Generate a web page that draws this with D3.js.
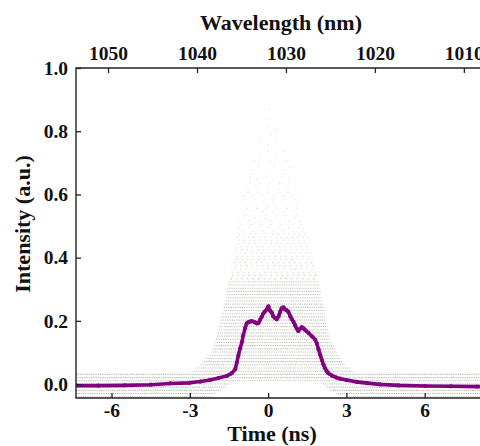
<!DOCTYPE html>
<meta charset="utf-8">
<title>Pulse profile</title>
<style>
body { margin: 0; background: #fff; }
text { font-family: "Liberation Serif", "Times New Roman", serif; font-weight: bold; fill: #111; }
.tick text { font-size: 19.5px; }
.tick line { stroke: #222; stroke-width: 1.3px; }
.title { font-size: 22px; }
</style>
<body>
<script src="https://cdn.jsdelivr.net/npm/d3@7"></script>
<script>

// averaged pulse
var timeNs = [-7.36, -6.5, -5.5, -4.5, -3.75, -3.0, -2.6, -2.22, -1.9, -1.58, -1.4, -1.26,
  -1.2, -1.14, -1.07, -1.0, -0.95, -0.88, -0.82, -0.75, -0.69, -0.62, -0.5, -0.43, -0.37,
  -0.31, -0.24, -0.18, -0.1, -0.05, 0.01, 0.08, 0.14, 0.2, 0.27, 0.33, 0.4, 0.46, 0.52,
  0.59, 0.65, 0.72, 0.78, 0.85, 0.91, 0.97, 1.04, 1.1, 1.16, 1.23, 1.29, 1.36, 1.42, 1.55,
  1.68, 1.8, 1.87, 1.93, 2.0, 2.06, 2.12, 2.18, 2.25, 2.31, 2.44, 2.6, 2.76, 3.0, 3.4,
  3.8, 4.29, 5, 6, 7, 8, 9];
var intensity = [-0.005, -0.005, -0.004, -0.002, 0.002, 0.004, 0.008, 0.013, 0.019, 0.026, 0.034, 0.047,
  0.068, 0.09, 0.113, 0.134, 0.155, 0.177, 0.192, 0.196, 0.198, 0.199, 0.195, 0.192, 0.193,
  0.203, 0.213, 0.224, 0.232, 0.236, 0.246, 0.232, 0.226, 0.214, 0.209, 0.205, 0.214, 0.228, 0.24,
  0.243, 0.236, 0.233, 0.228, 0.215, 0.205, 0.197, 0.185, 0.175, 0.168, 0.175, 0.18, 0.176, 0.171, 0.162,
  0.151, 0.141, 0.128, 0.11, 0.092, 0.076, 0.062, 0.05, 0.041, 0.034, 0.027, 0.021, 0.017, 0.013, 0.007,
  0.003, -0.001, -0.004, -0.006, -0.007, -0.008, -0.008];

// outline of the single-shot cloud behind the average
var cloudT  = [-7.4, -3.0, -2.6, -2.2, -2.0, -1.65, -1.35, -1.07, -0.5, 0.0, 0.65, 1.23, 1.69, 2.07, 2.37, 2.95, 3.4, 9.2];
var cloudHi = [0.035, 0.035, 0.06, 0.1, 0.14, 0.27, 0.42, 0.58, 0.74, 0.91, 0.74, 0.58, 0.42, 0.27, 0.14, 0.06, 0.035, 0.035];
var cloudLo = [-0.042, -0.042, -0.042, -0.04, -0.03, -0.01, 0.005, 0.008, 0.01, 0.01, 0.01, 0.01, 0.008, 0.0, -0.02, -0.04, -0.042, -0.042];

var timeTicks = [-6, -3, 0, 3, 6];
var wlTicks = [1050, 1040, 1030, 1020, 1010];
var intTicks = [0, 0.2, 0.4, 0.6, 0.8, 1.0];

var w = 480, h = 446,
    L = 76, R = 503, T = 68, B = 398;

var x = d3.scaleLinear().domain([-7.36, 9]).range([L, R]);
var wl = d3.scaleLinear().domain([1053.6, 1005.6]).range([L, R]);
var y = d3.scaleLinear().domain([-0.044, 1.0]).range([B, T]);

var svg = d3.select("body").append("svg")
    .attr("width", w)
    .attr("height", h);

var defs = svg.append("defs");
defs.append("clipPath").attr("id", "plot")
  .append("rect").attr("x", L).attr("y", T).attr("width", R - L).attr("height", B - T);

var cloud = d3.range(cloudT.length).map(function(i) { return [cloudT[i], cloudLo[i], cloudHi[i]]; });
defs.append("clipPath").attr("id", "cloud")
  .append("path")
  .attr("d", d3.area()
    .x(function(d) { return x(d[0]); })
    .y0(function(d) { return y(d[1]); })
    .y1(function(d) { return y(d[2]); })(cloud));

var plot = svg.append("g").attr("clip-path", "url(#plot)");

// quantised rows of faint coloured dots
var dotColors = ["#a6a6a6", "#8ccc8c", "#e49ab0", "#94b9de", "#d9bb80"];
var rowAlpha = d3.scaleLinear().domain([-0.04, 0.1, 0.3, 0.42, 0.55, 0.9]).range([0.85, 0.8, 0.75, 0.5, 0.38, 0.32]).clamp(true);
var rowGap = d3.scaleThreshold().domain([0.33, 0.48, 0.64]).range([4.5, 11, 20, 32]);
var levels = d3.range(-0.04, 0.905, 0.0101);

var rows = plot.append("g").attr("clip-path", "url(#cloud)");
levels.forEach(function(lv, k) {
  var p = rowGap(lv),
      period = p * dotColors.length / 2,
      shift = ((k * 0.618034 + k * k * 0.1377) % 1) * period;
  dotColors.forEach(function(c, j) {
    rows.append("line")
      .attr("x1", L).attr("x2", R)
      .attr("y1", y(lv)).attr("y2", y(lv))
      .attr("stroke", c)
      .attr("stroke-width", 1.1)
      .attr("stroke-opacity", rowAlpha(lv))
      .attr("stroke-dasharray", "1.3 " + (period - 1.3))
      .attr("stroke-dashoffset", j * p / 2 + shift);
  });
});

// averaged profile
var pts = timeNs.map(function(t, i) { return [t, intensity[i]]; });
plot.append("path")
  .attr("d", d3.line().x(function(d) { return x(d[0]); }).y(function(d) { return y(d[1]); })(pts))
  .attr("fill", "none")
  .attr("stroke", "#800080")
  .attr("stroke-width", 3.6)
  .attr("stroke-linejoin", "round");
plot.selectAll("circle.pt")
  .data(pts)
  .enter().append("circle")
  .attr("class", "pt")
  .attr("cx", function(d) { return x(d[0]); })
  .attr("cy", function(d) { return y(d[1]); })
  .attr("r", 2.1)
  .attr("fill", "#800080");

// axes
svg.append("g").attr("transform", "translate(0," + B + ")")
  .call(d3.axisBottom(x).tickValues(timeTicks).tickFormat(function(d) { return String(d); })
    .tickSizeInner(-5).tickSizeOuter(0).tickPadding(5))
  .call(function(g) { g.select(".domain").remove(); });

svg.append("g").attr("transform", "translate(0," + T + ")")
  .call(d3.axisTop(wl).tickValues(wlTicks).tickFormat(function(d) { return String(d); })
    .tickSizeInner(-5).tickSizeOuter(0).tickPadding(8))
  .call(function(g) { g.select(".domain").remove(); });

svg.append("g").attr("transform", "translate(" + L + ",0)")
  .call(d3.axisLeft(y).tickValues(intTicks).tickFormat(d3.format(".1f"))
    .tickSizeInner(-5).tickSizeOuter(0).tickPadding(8))
  .call(function(g) { g.select(".domain").remove(); });

svg.selectAll("g").attr("font-family", null).attr("font-size", null);

// frame (right side is off the picture)
svg.append("path")
  .attr("d", "M" + R + "," + T + "H" + L + "V" + B + "H" + R)
  .attr("fill", "none")
  .attr("stroke", "#222")
  .attr("stroke-width", 1.4);

svg.append("text").attr("class", "title")
  .attr("x", 281).attr("y", 30).attr("text-anchor", "middle")
  .text("Wavelength (nm)");
svg.append("text").attr("class", "title")
  .attr("x", 272).attr("y", 441).attr("text-anchor", "middle")
  .text("Time (ns)");
svg.append("text").attr("class", "title")
  .attr("transform", "translate(30,224) rotate(-90)")
  .attr("text-anchor", "middle")
  .text("Intensity (a.u.)");

</script>
